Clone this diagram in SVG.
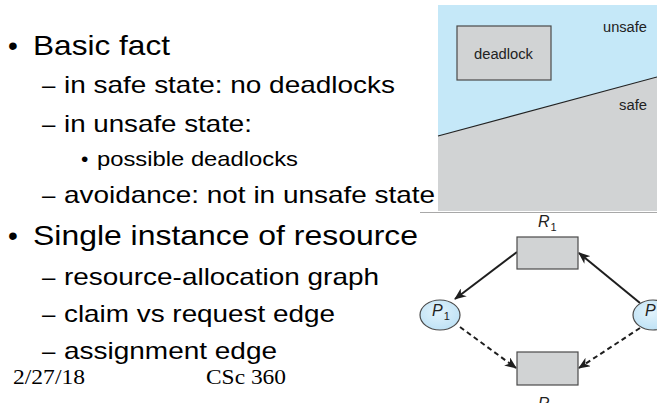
<svg xmlns="http://www.w3.org/2000/svg" width="657" height="403" viewBox="0 0 657 403">
<style>
.t{font-family:"Liberation Sans",Arial,sans-serif;fill:#000}
.l1{font-size:28px}
.l2{font-size:24px}
.l3{font-size:21px}
.ft{font-family:"Liberation Serif","Times New Roman",serif;font-size:21px;fill:#000}
.lbl{font-family:"Liberation Sans",Arial,sans-serif;fill:#222}
.it{font-style:italic;font-size:16px}
.sub{font-size:11px}
.box{fill:#d1d3d4;stroke:#4a4a4a;stroke-width:1.2}
.proc{fill:url(#pg);stroke:#4a4a4a;stroke-width:1.2}
.edge{stroke:#1e1e1e;stroke-width:2;fill:none}
.dash{stroke-dasharray:5,3.5}
</style>
<defs>
<marker id="ah" viewBox="0 0 12 10" refX="11" refY="5" markerWidth="6" markerHeight="5" orient="auto" markerUnits="strokeWidth">
<path d="M0,0 L12,5 L0,10 L3.5,5 z" fill="#1e1e1e"/>
</marker>
<radialGradient id="pg" cx="0.45" cy="0.4" r="0.7">
<stop offset="0" stop-color="#e2f3fc"/>
<stop offset="1" stop-color="#b9dff4"/>
</radialGradient>
</defs>
<rect x="0" y="0" width="657" height="403" fill="#ffffff"/>

<g id="state-diagram">
<rect x="438" y="5" width="219" height="206" fill="#c5e8f8"/>
<polygon points="438,136 657,77 657,211 438,211" fill="#d1d3d4"/>
<line x1="438" y1="136" x2="657" y2="77" stroke="#222" stroke-width="1.2"/>
<line x1="420" y1="212.5" x2="657" y2="212.5" stroke="#a8a8a8" stroke-width="1.2"/>
<g id="deadlock">
<rect class="box" x="457" y="26" width="94" height="54"/>
<text class="lbl" x="474" y="59" font-size="14" textLength="59" lengthAdjust="spacingAndGlyphs">deadlock</text>
</g>
<text class="lbl" x="603" y="32" font-size="14" textLength="44" lengthAdjust="spacingAndGlyphs">unsafe</text>
<text class="lbl" x="619" y="110" font-size="14" textLength="28" lengthAdjust="spacingAndGlyphs">safe</text>
</g>

<g id="connectors">
<line class="edge" x1="517" y1="252" x2="455" y2="299" marker-end="url(#ah)"/>
<line class="edge" x1="640" y1="303" x2="579" y2="253" marker-end="url(#ah)"/>
<line class="edge dash" x1="460" y1="327" x2="516" y2="368" marker-end="url(#ah)"/>
<line class="edge dash" x1="640" y1="328" x2="579" y2="368" marker-end="url(#ah)"/>
</g>

<g id="R1">
<rect class="box" x="517" y="237" width="61" height="32"/>
<text class="lbl it" x="538" y="227">R<tspan class="sub" font-style="normal" dx="1" dy="4">1</tspan></text>
</g>
<g id="R2">
<rect class="box" x="517" y="352" width="61" height="33"/>
<text class="lbl it" x="538" y="409">R</text>
</g>
<g id="P1">
<ellipse class="proc" cx="440" cy="315" rx="20" ry="15"/>
<text class="lbl it" x="432" y="316">P<tspan class="sub" font-style="normal" dx="1" dy="4">1</tspan></text>
</g>
<g id="P2">
<ellipse class="proc" cx="653" cy="315" rx="20" ry="15"/>
<text class="lbl it" x="645" y="316">P</text>
</g>

<g id="bullets">
<text class="t l1" x="8" y="55">•</text>
<text class="t l1" x="33" y="55" textLength="137" lengthAdjust="spacingAndGlyphs">Basic fact</text>
<text class="t l2" x="42" y="93">–</text>
<text class="t l2" x="64" y="93" textLength="331" lengthAdjust="spacingAndGlyphs">in safe state: no deadlocks</text>
<text class="t l2" x="42" y="132">–</text>
<text class="t l2" x="64" y="132" textLength="188" lengthAdjust="spacingAndGlyphs">in unsafe state:</text>
<text class="t l3" x="81" y="166" font-size="16">•</text>
<text class="t l3" x="97" y="166" textLength="201" lengthAdjust="spacingAndGlyphs">possible deadlocks</text>
<text class="t l2" x="42" y="203">–</text>
<text class="t l2" x="64" y="203" textLength="371" lengthAdjust="spacingAndGlyphs">avoidance: not in unsafe state</text>
<text class="t l1" x="8" y="245">•</text>
<text class="t l1" x="33" y="245" textLength="385" lengthAdjust="spacingAndGlyphs">Single instance of resource</text>
<text class="t l2" x="42" y="285">–</text>
<text class="t l2" x="64" y="285" textLength="315" lengthAdjust="spacingAndGlyphs">resource-allocation graph</text>
<text class="t l2" x="42" y="322">–</text>
<text class="t l2" x="64" y="322" textLength="271" lengthAdjust="spacingAndGlyphs">claim vs request edge</text>
<text class="t l2" x="42" y="359">–</text>
<text class="t l2" x="64" y="359" textLength="213" lengthAdjust="spacingAndGlyphs">assignment edge</text>
</g>
<g id="footer">
<text class="ft" x="13" y="384" textLength="72" lengthAdjust="spacingAndGlyphs">2/27/18</text>
<text class="ft" x="206" y="384" textLength="80" lengthAdjust="spacingAndGlyphs">CSc 360</text>
</g>
</svg>
